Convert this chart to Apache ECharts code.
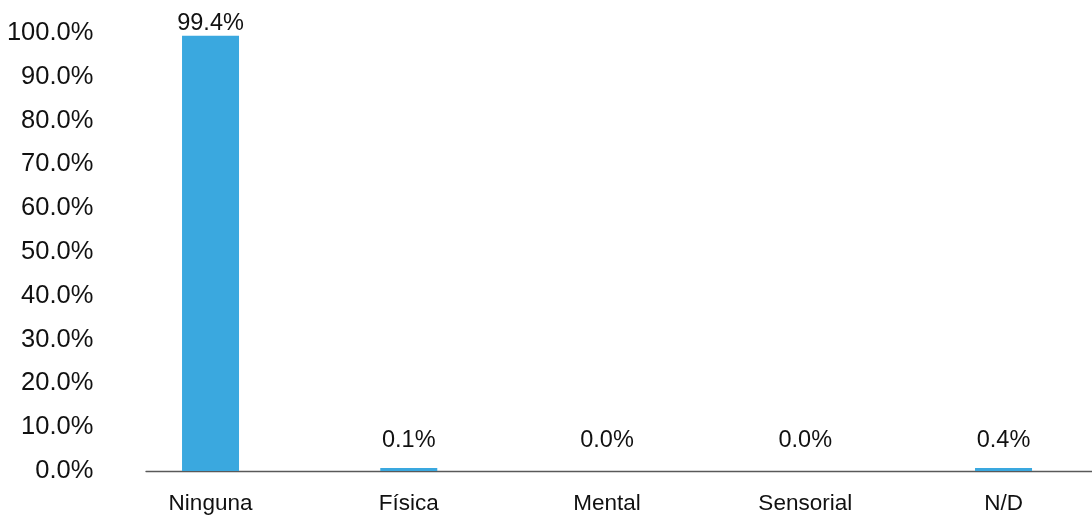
<!DOCTYPE html>
<html><head><meta charset="utf-8">
<script src="https://cdn.jsdelivr.net/npm/echarts@6/dist/echarts.min.js"></script>
<style>html,body{margin:0;padding:0;background:#fff}#c{width:1092px;height:516px}</style>
</head><body><div id="c"></div>
<script>
const categories = ['Ninguna', 'Física', 'Mental', 'Sensorial', 'N/D'];
const values = [99.4, 0.1, 0.0, 0.0, 0.4];
const yTicks = { min: 0, max: 100, interval: 10 };

const FONT = '"Liberation Sans", Arial, sans-serif';
const BLUE = '#3aa8df';

const chart = echarts.init(document.getElementById('c'), null, { renderer: 'canvas' });
chart.setOption({
  animation: false,
  grid: [
    { left: 111.4, width: 991.25, top: 33, bottom: 45, outerBoundsMode: 'none', containLabel: false },
    { left: 146, right: 0, top: 33, bottom: 45, outerBoundsMode: 'none', containLabel: false }
  ],
  xAxis: [
    { type: 'category', data: categories, gridIndex: 0,
      axisLine: { show: false }, axisTick: { show: false },
      axisLabel: { fontFamily: FONT, fontSize: 22.5, color: '#111', margin: 21, hideOverlap: false } },
    { type: 'value', gridIndex: 1, min: 0, max: 1,
      axisLine: { show: true, lineStyle: { color: '#595959', width: 1.3 } },
      axisTick: { show: false }, axisLabel: { show: false }, splitLine: { show: false } }
  ],
  yAxis: [
    { type: 'value', gridIndex: 0, min: yTicks.min, max: yTicks.max, interval: yTicks.interval,
      axisLine: { show: false }, axisTick: { show: false }, splitLine: { show: false },
      axisLabel: { fontFamily: FONT, fontSize: 25.5, color: '#111', margin: 18,
        formatter: v => v.toFixed(1) + '%' } },
    { type: 'value', gridIndex: 1, show: false, min: 0, max: 1 }
  ],
  series: [{
    type: 'bar', xAxisIndex: 0, yAxisIndex: 0,
    barWidth: 57, barMinHeight: 3,
    data: values.map(v => ({
      value: v,
      itemStyle: { color: v === 0 ? 'rgba(0,0,0,0)' : BLUE },
      label: { distance: v > 50 ? 0 : 15 }
    })),
    label: { show: true, position: 'top', fontFamily: FONT, fontSize: 23.5, color: '#111',
      formatter: p => p.value.toFixed(1) + '%' }
  }]
});
</script></body></html>
